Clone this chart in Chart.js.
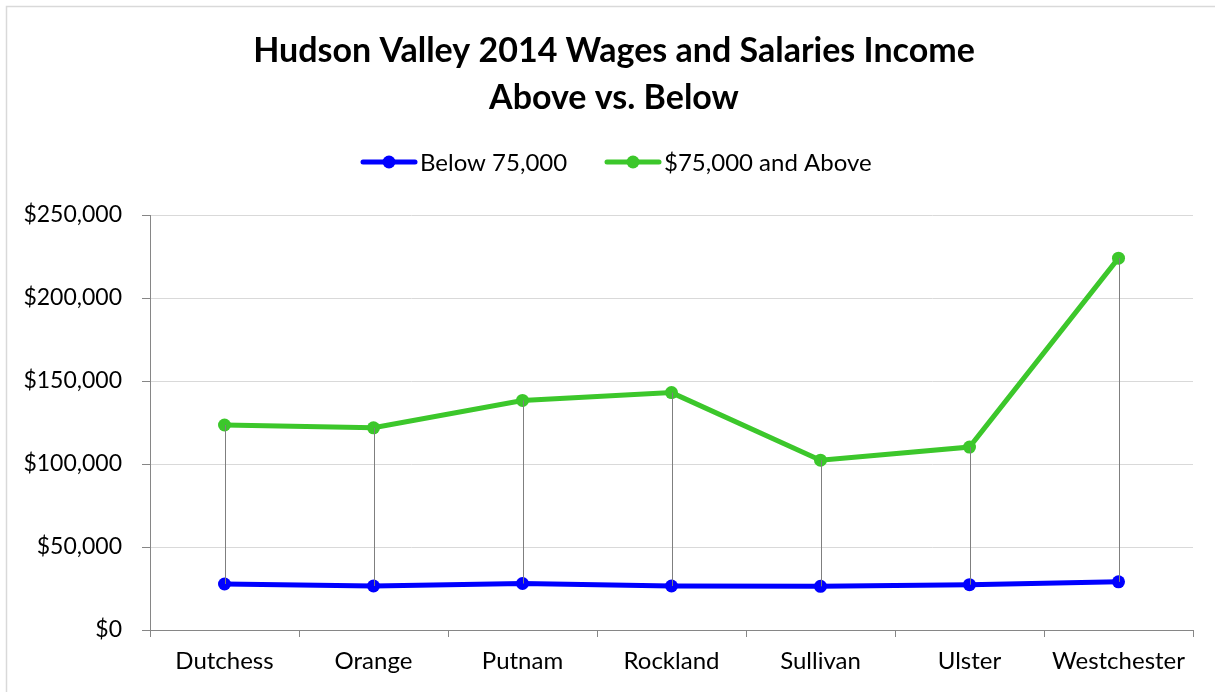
<!DOCTYPE html>
<html>
<head>
<meta charset="utf-8">
<script src="https://cdn.jsdelivr.net/npm/chart.js@4"></script>
<style>
html,body{margin:0;padding:0;background:#fff;}
#wrap{width:1215px;height:692px;position:relative;}
</style>
</head>
<body>
<div id="wrap"><canvas id="c" width="1215" height="692"></canvas></div>
<script>
const categories = ["Dutchess", "Orange", "Putnam", "Rockland", "Sullivan", "Ulster", "Westchester"];
const below75k = [27700, 26500, 28000, 26500, 26300, 27300, 29000];
const above75k = [123500, 121800, 138300, 143000, 102300, 110200, 224000];
const yTicks = [0, 50000, 100000, 150000, 200000, 250000];
const titleLines = ["Hudson Valley 2014 Wages and Salaries Income", "Above vs. Below"];
const seriesNames = ["Below 75,000", "$75,000 and Above"];

const BLUE = "#0000ff";
const GREEN = "#3cc72b";
const FONT = "Lato, 'Liberation Sans', sans-serif";

const decorPlugin = {
  id: "decor",
  beforeDraw(chart) {
    const ctx = chart.ctx;
    ctx.save();
    ctx.fillStyle = "#fff";
    ctx.fillRect(0, 0, chart.width, chart.height);
    ctx.strokeStyle = "#d9d9d9";
    ctx.lineWidth = 1.5;
    ctx.beginPath();
    ctx.moveTo(6.5, chart.height + 5);
    ctx.lineTo(6.5, 6.5);
    ctx.lineTo(chart.width + 5, 6.5);
    ctx.stroke();
    // title
    ctx.fillStyle = "#000";
    ctx.textAlign = "center";
    ctx.textBaseline = "middle";
    ctx.font = "bold 34px " + FONT;
    ctx.fillText(titleLines[0], 614, 51);
    ctx.fillText(titleLines[1], 614, 98);
    // legend
    const items = [
      { x: 363, color: BLUE, text: seriesNames[0] },
      { x: 607, color: GREEN, text: seriesNames[1] }
    ];
    const ly = 162;
    ctx.font = "24px " + FONT;
    ctx.textAlign = "left";
    items.forEach(it => {
      ctx.strokeStyle = it.color;
      ctx.lineWidth = 5;
      ctx.lineCap = "round";
      ctx.beginPath();
      ctx.moveTo(it.x, ly);
      ctx.lineTo(it.x + 52, ly);
      ctx.stroke();
      ctx.fillStyle = it.color;
      ctx.beginPath();
      ctx.arc(it.x + 26, ly, 6.5, 0, Math.PI * 2);
      ctx.fill();
      ctx.fillStyle = "#000";
      ctx.fillText(it.text, it.x + 57, ly + 1);
    });
    ctx.restore();
  },
  afterDatasetsDraw(chart) {
    const ctx = chart.ctx;
    const m0 = chart.getDatasetMeta(0).data;
    const m1 = chart.getDatasetMeta(1).data;
    ctx.save();
    ctx.strokeStyle = "#7f7f7f";
    ctx.lineWidth = 1;
    ctx.beginPath();
    for (let i = 0; i < m0.length; i++) {
      const x = Math.round(m1[i].x) + 0.5;
      ctx.moveTo(x, m1[i].y);
      ctx.lineTo(x, m0[i].y);
    }
    ctx.stroke();
    ctx.restore();
  }
};

new Chart(document.getElementById("c"), {
  type: "line",
  data: {
    labels: categories,
    datasets: [
      { label: seriesNames[0], data: below75k, borderColor: BLUE, backgroundColor: BLUE,
        borderWidth: 5, pointRadius: 6.5, pointBackgroundColor: BLUE, pointBorderWidth: 0, tension: 0 },
      { label: seriesNames[1], data: above75k, borderColor: GREEN, backgroundColor: GREEN,
        borderWidth: 5, pointRadius: 6.5, pointBackgroundColor: GREEN, pointBorderWidth: 0, tension: 0 }
    ]
  },
  options: {
    responsive: false,
    animation: false,
    devicePixelRatio: 1,
    layout: { padding: { top: 215, right: 22, left: 0, bottom: 0 } },
    plugins: { legend: { display: false }, title: { display: false }, tooltip: { enabled: false } },
    scales: {
      x: {
        offset: true,
        grid: { offset: true, drawOnChartArea: false, tickLength: 7, tickColor: "#868686", tickWidth: 1 },
        border: { color: "#868686", width: 1 },
        ticks: { color: "#000", font: { family: FONT, size: 24 }, padding: 10, maxRotation: 0, autoSkip: false },
        afterFit(s) { s.height = 62; }
      },
      y: {
        min: 0, max: 250000,
        afterBuildTicks(s) { s.ticks = yTicks.map(v => ({ value: v })); },
        grid: { color: "#d9d9d9", tickColor: "#868686", tickLength: 8, lineWidth: 1 },
        border: { color: "#868686", width: 1 },
        ticks: { color: "#000", font: { family: FONT, size: 23 }, padding: 20,
          callback: v => "$" + Number(v).toLocaleString("en-US") },
        afterFit(s) { s.width = 150; }
      }
    }
  },
  plugins: [decorPlugin]
});
</script>
</body>
</html>
